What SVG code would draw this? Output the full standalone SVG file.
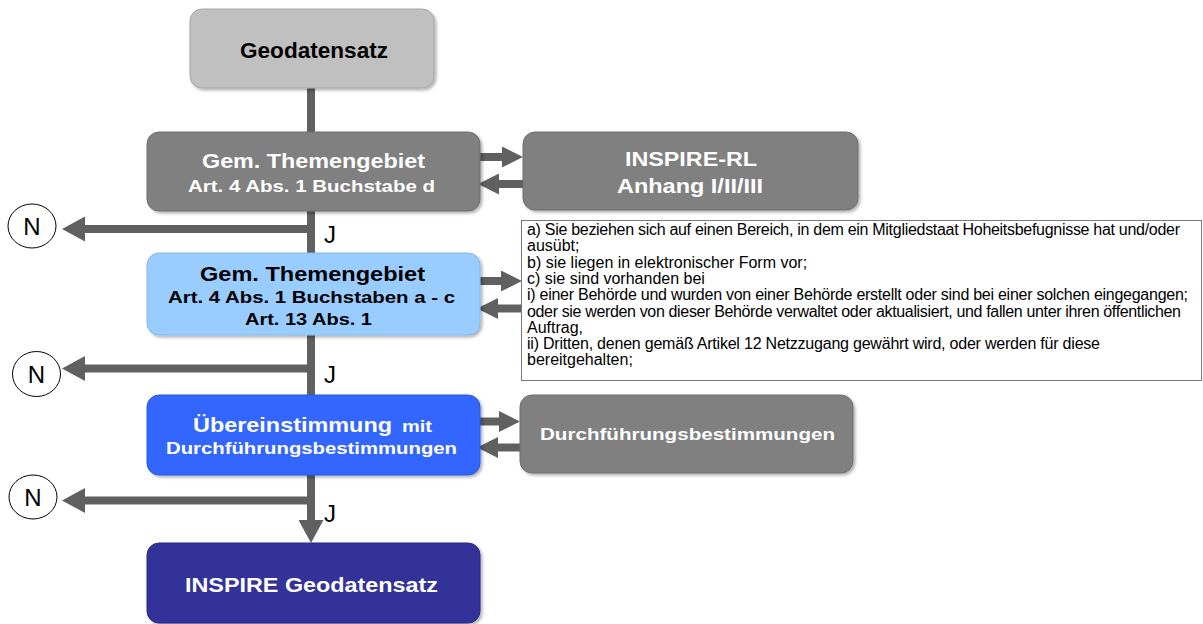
<svg xmlns="http://www.w3.org/2000/svg" width="1203" height="624" viewBox="0 0 1203 624">
  <defs>
    <style>
      .box { stroke-width: 1; filter: url(#shadow); }
      .grey-light { fill: #c0c0c0; stroke: #a6a6a6; }
      .grey { fill: #808080; stroke: #6e6e6e; }
      .sky { fill: #99ccff; stroke: #86b8e8; }
      .blue { fill: #3366ff; stroke: #2a57e0; }
      .navy { fill: #333399; stroke: #2a2a85; }
      .lbl { font-family: "Liberation Sans", Arial, sans-serif; font-weight: bold; }
      .white { fill: #ffffff; }
      .black { fill: #000000; }
      .wire { stroke: #606060; stroke-width: 8; fill: none; }
      .yn { font-family: "Liberation Sans", Arial, sans-serif; font-size: 24px; fill: #000000; }
      .circ { fill: #ffffff; stroke: #000000; stroke-width: 1; }
      .note { font-family: "Liberation Sans", Arial, sans-serif; font-size: 16px; fill: #000000; }
    </style>
    <filter id="shadow" x="-5%" y="-5%" width="115%" height="120%">
      <feDropShadow dx="2" dy="2" stdDeviation="1.5" flood-color="#000000" flood-opacity="0.3"/>
    </filter>
    <marker id="headL" markerUnits="userSpaceOnUse" markerWidth="23" markerHeight="25" refX="0" refY="12.5" orient="auto">
      <path d="M0,0 L23,12.5 L0,25 z" fill="#606060"/>
    </marker>
    <marker id="headS" markerUnits="userSpaceOnUse" markerWidth="21" markerHeight="21" refX="0" refY="10.5" orient="auto">
      <path d="M0,0 L21,10.5 L0,21 z" fill="#606060"/>
    </marker>
  </defs>

  <rect width="1203" height="624" fill="#ffffff"/>

  <!-- connectors -->
  <g id="connectors">
    <path class="wire" d="M311,88 V520" marker-end="url(#headL)"/>
    <path class="wire" d="M311,229 H85" marker-end="url(#headL)"/>
    <path class="wire" d="M311,368.5 H85" marker-end="url(#headL)"/>
    <path class="wire" d="M311,500.5 H85" marker-end="url(#headL)"/>
    <path class="wire" d="M476,157 H502" marker-end="url(#headS)"/>
    <path class="wire" d="M523,184 H499" marker-end="url(#headS)"/>
    <path class="wire" d="M476,281 H501" marker-end="url(#headS)"/>
    <path class="wire" d="M522,308.5 H498" marker-end="url(#headS)"/>
    <path class="wire" d="M476,421.5 H499" marker-end="url(#headS)"/>
    <path class="wire" d="M520,447.5 H498" marker-end="url(#headS)"/>
  </g>

  <!-- yes / no labels -->
  <g id="no-1">
    <ellipse class="circ" cx="32" cy="226" rx="24" ry="22"/>
    <text class="yn" x="32" y="235" text-anchor="middle">N</text>
  </g>
  <g id="no-2">
    <ellipse class="circ" cx="36.5" cy="374" rx="24" ry="22.5"/>
    <text class="yn" x="36.5" y="383" text-anchor="middle">N</text>
  </g>
  <g id="no-3">
    <ellipse class="circ" cx="33" cy="497" rx="24" ry="22"/>
    <text class="yn" x="33" y="505.5" text-anchor="middle">N</text>
  </g>
  <g id="yes-labels">
    <text class="yn" x="324" y="243">J</text>
    <text class="yn" x="324" y="383">J</text>
    <text class="yn" x="324" y="522">J</text>
  </g>

  <!-- nodes -->
  <g id="geodatensatz">
    <rect class="box grey-light" x="190" y="9" width="244" height="79" rx="12"/>
    <text class="lbl black" x="240" y="58" font-size="22" textLength="148" lengthAdjust="spacingAndGlyphs">Geodatensatz</text>
  </g>

  <g id="themengebiet-d">
    <rect class="box grey" x="147" y="132" width="333" height="79" rx="12"/>
    <text class="lbl white" x="202" y="168" font-size="21" textLength="223" lengthAdjust="spacingAndGlyphs">Gem. Themengebiet</text>
    <text class="lbl white" x="188" y="192" font-size="17" textLength="247" lengthAdjust="spacingAndGlyphs">Art. 4 Abs. 1 Buchstabe d</text>
  </g>

  <g id="inspire-rl">
    <rect class="box grey" x="523" y="132" width="335" height="78" rx="12"/>
    <text class="lbl white" x="625" y="166" font-size="20" textLength="132" lengthAdjust="spacingAndGlyphs">INSPIRE-RL</text>
    <text class="lbl white" x="617" y="193" font-size="20" textLength="146" lengthAdjust="spacingAndGlyphs">Anhang I/II/III</text>
  </g>

  <g id="themengebiet-ac">
    <rect class="box sky" x="147" y="253" width="333" height="82" rx="12"/>
    <text class="lbl black" x="200" y="281" font-size="21" textLength="225" lengthAdjust="spacingAndGlyphs">Gem. Themengebiet</text>
    <text class="lbl black" x="168" y="303" font-size="17" textLength="287" lengthAdjust="spacingAndGlyphs">Art. 4 Abs. 1 Buchstaben a - c</text>
    <text class="lbl black" x="245" y="325" font-size="17" textLength="127" lengthAdjust="spacingAndGlyphs">Art. 13 Abs. 1</text>
  </g>

  <g id="kriterien">
    <rect x="521.5" y="220.5" width="680" height="160" fill="#ffffff" stroke="#7a7a7a" stroke-width="1"/>
    <text class="note" x="527" y="235" textLength="653" lengthAdjust="spacing">a) Sie beziehen sich auf einen Bereich, in dem ein Mitgliedstaat Hoheitsbefugnisse hat und/oder</text>
    <text class="note" x="527" y="251.3">ausübt;</text>
    <text class="note" x="527" y="267.6">b) sie liegen in elektronischer Form vor;</text>
    <text class="note" x="527" y="283.9">c) sie sind vorhanden bei</text>
    <text class="note" x="527" y="300.2" textLength="661" lengthAdjust="spacing">i) einer Behörde und wurden von einer Behörde erstellt oder sind bei einer solchen eingegangen;</text>
    <text class="note" x="527" y="316.5" textLength="654" lengthAdjust="spacing">oder sie werden von dieser Behörde verwaltet oder aktualisiert, und fallen unter ihren öffentlichen</text>
    <text class="note" x="527" y="332.8">Auftrag,</text>
    <text class="note" x="527" y="349.1" textLength="573" lengthAdjust="spacing">ii) Dritten, denen gemäß Artikel 12 Netzzugang gewährt wird, oder werden für diese</text>
    <text class="note" x="527" y="365.4">bereitgehalten;</text>
  </g>

  <g id="uebereinstimmung">
    <rect class="box blue" x="147" y="395" width="333" height="80" rx="12"/>
    <text class="lbl white" x="193" y="432" font-size="21" textLength="199" lengthAdjust="spacingAndGlyphs">Übereinstimmung</text>
    <text class="lbl white" x="402" y="432" font-size="16" textLength="30" lengthAdjust="spacingAndGlyphs">mit</text>
    <text class="lbl white" x="166" y="453.5" font-size="17" textLength="291" lengthAdjust="spacingAndGlyphs">Durchführungsbestimmungen</text>
  </g>

  <g id="durchfuehrungsbestimmungen">
    <rect class="box grey" x="520" y="395" width="333" height="78" rx="12"/>
    <text class="lbl white" x="540" y="440" font-size="17" textLength="295" lengthAdjust="spacingAndGlyphs">Durchführungsbestimmungen</text>
  </g>

  <g id="inspire-geodatensatz">
    <rect class="box navy" x="147" y="543" width="333" height="80" rx="12"/>
    <text class="lbl white" x="185" y="592" font-size="21" textLength="253" lengthAdjust="spacingAndGlyphs">INSPIRE Geodatensatz</text>
  </g>
</svg>
